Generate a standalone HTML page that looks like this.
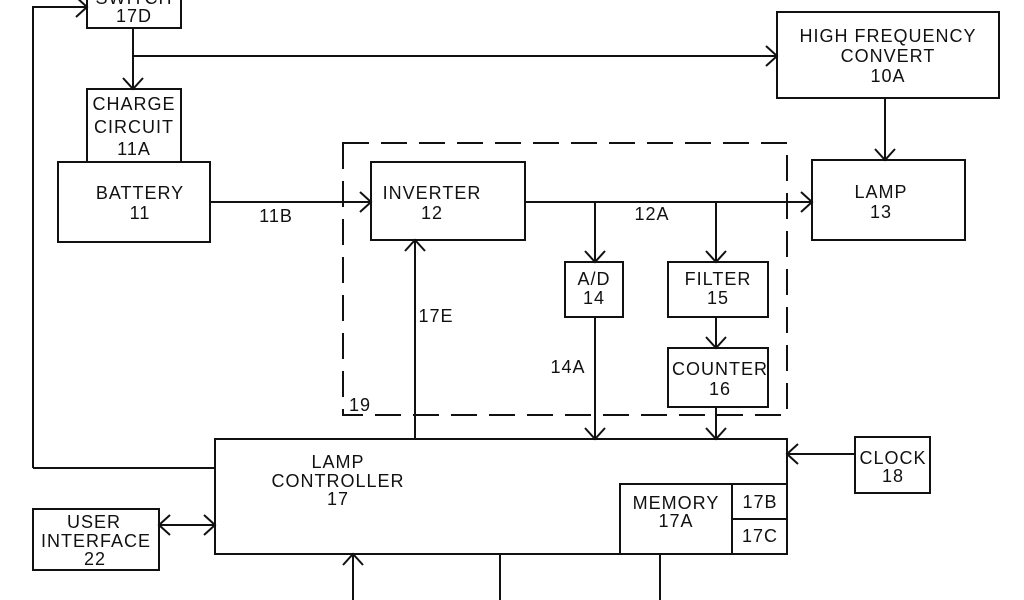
<!DOCTYPE html>
<html><head><style>
html,body{margin:0;padding:0;background:#fff;}
svg{display:block;}
text{font-family:"Liberation Sans",sans-serif;font-size:18px;fill:#111;text-anchor:middle;letter-spacing:1px;}
</style></head><body>
<svg width="1024" height="600" viewBox="0 0 1024 600" xmlns="http://www.w3.org/2000/svg">
<g stroke="#111" stroke-width="2" fill="none">
<rect x="87" y="-10" width="94" height="38"/>
<rect x="87" y="89" width="94" height="73"/>
<rect x="58" y="162" width="152" height="80"/>
<rect x="777" y="12" width="222" height="86"/>
<rect x="371" y="162" width="154" height="78"/>
<rect x="812" y="160" width="153" height="80"/>
<rect x="343" y="143" width="444" height="272" stroke-dasharray="26,12"/>
<rect x="565" y="262" width="58" height="55"/>
<rect x="668" y="262" width="100" height="55"/>
<rect x="668" y="348" width="100" height="59"/>
<rect x="215" y="439" width="572" height="115"/>
<rect x="620" y="484" width="112" height="70"/>
<rect x="732" y="484" width="55" height="35"/>
<rect x="732" y="519" width="55" height="35"/>
<rect x="855" y="437" width="75" height="56"/>
<rect x="33" y="509" width="126" height="61"/>
<path d="M133 28V89 M133 56H777 M885 98V160 M210 202H371 M525 202H812 M595 202V262 M716 202V262 M716 317V348 M595 317V439 M716 407V439 M415 439V240 M855 454H787 M159 525H215 M33 468H215 M33 468V7H87 M353 600V554 M500 554V600 M660 554V600"/>
<path d="M123 78L133 89L143 78"/>
<path d="M766 46L777 56L766 66"/>
<path d="M875 149L885 160L895 149"/>
<path d="M360 192L371 202L360 212"/>
<path d="M801 192L812 202L801 212"/>
<path d="M585 251L595 262L605 251"/>
<path d="M706 251L716 262L726 251"/>
<path d="M706 337L716 348L726 337"/>
<path d="M585 428L595 439L605 428"/>
<path d="M706 428L716 439L726 428"/>
<path d="M405 251L415 240L425 251"/>
<path d="M798 444L787 454L798 464"/>
<path d="M204 515L215 525L204 535"/>
<path d="M170 515L159 525L170 535"/>
<path d="M76 -3L87 7L76 17"/>
<path d="M343 565L353 554L363 565"/>
</g>
<text x="134" y="4">SWITCH</text>
<text x="134" y="22">17D</text>
<text x="134" y="110">CHARGE</text>
<text x="134" y="133">CIRCUIT</text>
<text x="134" y="155">11A</text>
<text x="140" y="199">BATTERY</text>
<text x="140" y="219">11</text>
<text x="888" y="42">HIGH FREQUENCY</text>
<text x="888" y="62">CONVERT</text>
<text x="888" y="82">10A</text>
<text x="432" y="199">INVERTER</text>
<text x="432" y="219">12</text>
<text x="881" y="198">LAMP</text>
<text x="881" y="218">13</text>
<text x="276" y="222">11B</text>
<text x="652" y="220">12A</text>
<text x="594" y="285">A/D</text>
<text x="594" y="304">14</text>
<text x="718" y="285">FILTER</text>
<text x="718" y="304">15</text>
<text x="720" y="375">COUNTER</text>
<text x="720" y="395">16</text>
<text x="436" y="322">17E</text>
<text x="568" y="373">14A</text>
<text x="360" y="411">19</text>
<text x="338" y="468">LAMP</text>
<text x="338" y="487">CONTROLLER</text>
<text x="338" y="505">17</text>
<text x="676" y="509">MEMORY</text>
<text x="676" y="527">17A</text>
<text x="760" y="508">17B</text>
<text x="760" y="542">17C</text>
<text x="893" y="464">CLOCK</text>
<text x="893" y="482">18</text>
<text x="94" y="528">USER</text>
<text x="96" y="547">INTERFACE</text>
<text x="95" y="565">22</text>
</svg>
</body></html>
